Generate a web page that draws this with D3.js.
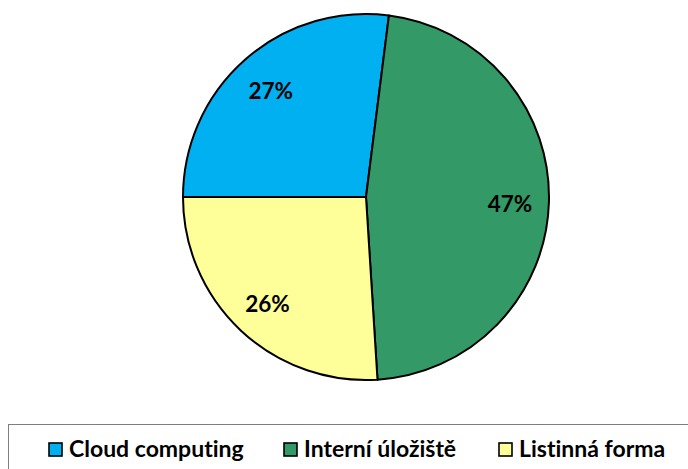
<!DOCTYPE html>
<html>
<head>
<meta charset="utf-8">
<script src="https://cdn.jsdelivr.net/npm/d3@7"></script>
<style>
  html, body { margin: 0; padding: 0; background: #ffffff; }
  svg { display: block; }
  text { font-variant-ligatures: none; font-feature-settings: "liga" 0; }
</style>
</head>
<body>
<svg id="chart" width="688" height="469"></svg>
<script>
// Storage type shares (percent)
const categories = ["Cloud computing", "Interní úložiště", "Listinná forma"];
const shares = [27, 47, 26];
const sliceColors = ["#00B0F0", "#339966", "#FFFF99"];

const width = 688, height = 469;
const cx = 366, cy = 197, radius = 183;

const svg = d3.select("#chart");
const font = "Lato, 'Open Sans', 'DejaVu Sans', sans-serif";

const color = d3.scaleOrdinal().domain(categories).range(sliceColors);

// First slice starts at 9 o'clock and runs clockwise
const pie = d3.pie()
  .value(d => d.value)
  .sort(null)
  .startAngle(-Math.PI / 2)
  .endAngle(Math.PI * 1.5);

const data = categories.map((c, i) => ({ name: c, value: shares[i] }));
const arcs = pie(data);

const arc = d3.arc().innerRadius(0).outerRadius(radius);
const labelArc = d3.arc().innerRadius(radius * 0.787).outerRadius(radius * 0.787);

const g = svg.append("g").attr("transform", `translate(${cx},${cy})`);

g.selectAll("path.slice")
  .data(arcs)
  .join("path")
  .attr("class", "slice")
  .attr("d", arc)
  .attr("fill", d => color(d.data.name))
  .attr("stroke", "#000")
  .attr("stroke-width", 2)
  .attr("stroke-linejoin", "round");

g.selectAll("text.pct")
  .data(arcs)
  .join("text")
  .attr("class", "pct")
  .attr("transform", d => `translate(${labelArc.centroid(d)})`)
  .attr("text-anchor", "middle")
  .attr("dy", "0.45em")
  .attr("font-family", font)
  .attr("font-weight", "bold")
  .attr("font-size", 22.5)
  .attr("fill", "#000")
  .text(d => d3.format(".0f")(d.data.value) + "%");

// Legend frame (runs past the right and bottom edges)
svg.append("rect")
  .attr("x", 8.5).attr("y", 424.5)
  .attr("width", 700).attr("height", 60)
  .attr("fill", "#fff")
  .attr("stroke", "#7f7f7f")
  .attr("stroke-width", 1);

const legendX = [49, 284, 499];
const legend = svg.selectAll("g.legend-item")
  .data(categories)
  .join("g")
  .attr("class", "legend-item")
  .attr("transform", (d, i) => `translate(${legendX[i]},457)`);

legend.append("rect")
  .attr("x", 0).attr("y", -14)
  .attr("width", 13).attr("height", 13)
  .attr("fill", d => color(d))
  .attr("stroke", "#000")
  .attr("stroke-width", 1.6);

legend.append("text")
  .attr("x", 20)
  .attr("y", 0)
  .attr("font-family", font)
  .attr("font-weight", "bold")
  .attr("font-size", 23)
  .attr("fill", "#000")
  .text(d => d);
</script>
</body>
</html>
